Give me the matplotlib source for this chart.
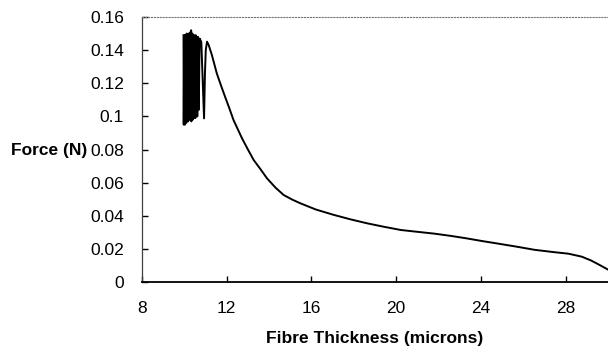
import matplotlib
matplotlib.use("Agg")
import matplotlib.pyplot as plt
from matplotlib.ticker import FuncFormatter

plt.rcParams['font.family'] = ['Liberation Sans', 'DejaVu Sans']

# zigzag part near 10 microns
zig_x = [9.96, 9.97, 9.99, 10.00, 10.02, 10.03, 10.05, 10.06, 10.08, 10.09,
         10.11, 10.12, 10.14, 10.15, 10.17, 10.18, 10.20, 10.21, 10.23, 10.24,
         10.26, 10.27, 10.29, 10.30, 10.32, 10.33, 10.35, 10.36, 10.38, 10.39,
         10.41, 10.42, 10.44, 10.45, 10.47, 10.48, 10.50, 10.52, 10.54, 10.56,
         10.58, 10.61, 10.64, 10.68, 10.72]
zig_y = [0.149, 0.095, 0.148, 0.097, 0.149, 0.095, 0.149, 0.098, 0.148, 0.096,
         0.150, 0.097, 0.149, 0.099, 0.148, 0.097, 0.150, 0.098, 0.149, 0.100,
         0.150, 0.098, 0.151, 0.099, 0.152, 0.097, 0.149, 0.100, 0.150, 0.098,
         0.149, 0.101, 0.148, 0.099, 0.149, 0.100, 0.148, 0.099, 0.149, 0.102,
         0.148, 0.100, 0.148, 0.104, 0.147]

# smooth part of the curve
curve_x = [10.80, 10.93, 10.97, 11.01, 11.07, 11.15, 11.3, 11.53, 11.72, 11.92,
           12.12, 12.32, 12.72, 13.0, 13.27, 13.6, 13.9, 14.3, 14.69, 15.1,
           15.48, 16.2, 17.06, 17.85, 18.64, 19.4, 20.22, 21.0, 21.8, 22.6,
           23.3, 24.02, 24.8, 25.7, 26.55, 27.4, 28.13, 28.76, 29.2, 29.6,
           30.0]
curve_y = [0.145, 0.0988, 0.125, 0.140, 0.1451, 0.143, 0.137, 0.126, 0.119, 0.1119,
           0.105, 0.0978, 0.0868, 0.080, 0.0737, 0.068, 0.0626, 0.057, 0.0525, 0.0497,
           0.0475, 0.0438, 0.0405, 0.0378, 0.0354, 0.0334, 0.0314, 0.0303, 0.0292, 0.0278,
           0.0264, 0.0248, 0.0232, 0.0213, 0.0194, 0.0181, 0.0171, 0.0153, 0.0130, 0.0103,
           0.0075]

x_ticks = [8, 12, 16, 20, 24, 28]
y_ticks = [0, 0.02, 0.04, 0.06, 0.08, 0.1, 0.12, 0.14, 0.16]

fig = plt.figure(figsize=(6.08, 3.48), dpi=100)
ax = fig.add_axes([142 / 608, 1 - 282 / 348, 1 - 142 / 608, (282 - 17) / 348])

ax.plot(zig_x + curve_x, zig_y + curve_y, color="black", linewidth=1.4)

ax.set_xlim(8, 30)
ax.set_ylim(0, 0.16)
ax.set_xticks(x_ticks)
ax.set_yticks(y_ticks)
ax.yaxis.set_major_formatter(FuncFormatter(lambda v, p: "%g" % v))

ax.tick_params(direction="in", length=4, width=1, labelsize=12.5)
ax.tick_params(axis="y", pad=13)
ax.tick_params(axis="x", pad=14)

ax.spines["right"].set_visible(False)
ax.spines["top"].set_color("0.45")
ax.spines["top"].set_linestyle(":")
ax.spines["top"].set_linewidth(0.8)
ax.spines["left"].set_color("0.25")
ax.spines["left"].set_linewidth(0.9)
ax.spines["bottom"].set_linewidth(1.3)

fig.text(87 / 608, 1 - 150 / 348, "Force (N)", ha="right", va="center",
         fontsize=12.5, fontweight="bold")
fig.text(375 / 608, 1 - 339 / 348, "Fibre Thickness (microns)", ha="center",
         va="center", fontsize=12.5, fontweight="bold")

fig.savefig("out.png", dpi=100)
